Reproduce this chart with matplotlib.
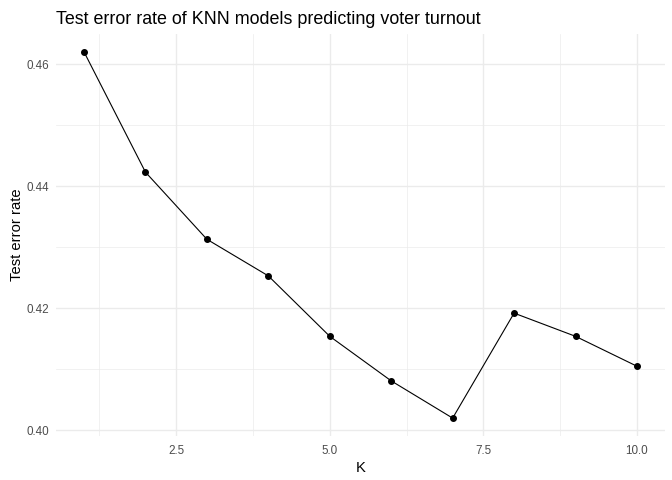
import matplotlib
matplotlib.use("Agg")
import matplotlib.pyplot as plt
from matplotlib.ticker import FixedLocator

k_values = [1, 2, 3, 4, 5, 6, 7, 8, 9, 10]
test_error = [0.4620, 0.4423, 0.4313, 0.4253, 0.4154, 0.4081, 0.4020, 0.4192, 0.4154, 0.4105]
x_ticks = [2.5, 5.0, 7.5, 10.0]
x_tick_labels = ["2.5", "5.0", "7.5", "10.0"]
y_ticks = [0.40, 0.42, 0.44, 0.46]
y_tick_labels = ["0.40", "0.42", "0.44", "0.46"]

plt.rcParams['font.family'] = ['Liberation Sans', 'DejaVu Sans']

fig = plt.figure(figsize=(6.72, 4.8), dpi=100)
ax = fig.add_axes([0.0839, 0.0908, 0.989 - 0.0839, 0.930 - 0.0908])

ax.plot(k_values, test_error, color="black", lw=0.8, zorder=3)
ax.scatter(k_values, test_error, color="black", s=16, zorder=4)

xr = max(k_values) - min(k_values)
ax.set_xlim(min(k_values) - 0.05 * xr, max(k_values) + 0.05 * xr)
yr = max(test_error) - min(test_error)
ax.set_ylim(min(test_error) - 0.05 * yr, max(test_error) + 0.05 * yr)

ax.set_xticks(x_ticks)
ax.set_xticklabels(x_tick_labels)
ax.set_yticks(y_ticks)
ax.set_yticklabels(y_tick_labels)
ax.xaxis.set_minor_locator(FixedLocator([1.25, 3.75, 6.25, 8.75]))
ax.yaxis.set_minor_locator(FixedLocator([0.41, 0.43, 0.45]))

ax.grid(which="major", color="#EBEBEB", lw=1.0)
ax.grid(which="minor", color="#EBEBEB", lw=0.5)
ax.set_axisbelow(True)
for s in ax.spines.values():
    s.set_visible(False)
ax.tick_params(which="both", length=0, labelsize=8.4, labelcolor="#4D4D4D")
ax.tick_params(axis="x", pad=6)
ax.tick_params(axis="y", pad=5)

ax.set_xlabel("K", fontsize=10.6, color="black", labelpad=3)
ax.set_ylabel("Test error rate", fontsize=10.6, color="black", labelpad=2)
ax.set_title("Test error rate of KNN models predicting voter turnout",
             fontsize=12.9, loc="left", pad=7, color="black")

fig.savefig("out.png", dpi=100, facecolor="white")
